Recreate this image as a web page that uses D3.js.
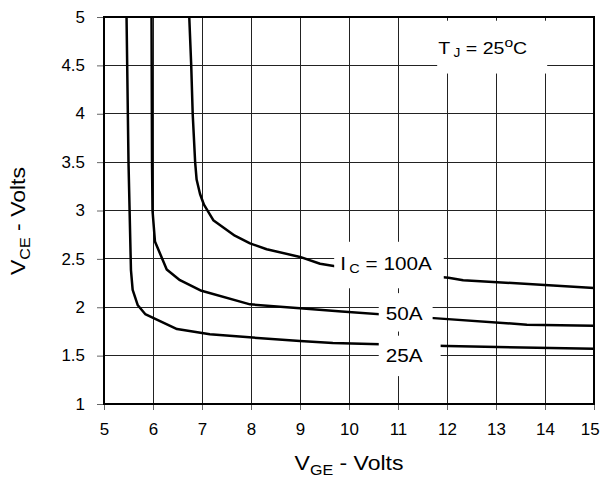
<!DOCTYPE html>
<html>
<head>
<meta charset="utf-8">
<script src="https://cdn.jsdelivr.net/npm/d3@7"></script>
<style>
  body { margin: 0; background: #fff; }
  svg { font-family: "Liberation Sans", Arial, sans-serif; }
</style>
</head>
<body>
<svg width="602" height="480"></svg>
<script>
  // curves: V_GE (x) and V_CE (y) per collector current
  const vge25 = [5.46, 5.50, 5.55, 5.585, 5.69, 5.84, 6.49, 7.16, 9.0, 9.67, 12.0, 15];
  const vce25 = [5.0, 3.5, 2.385, 2.18, 2.02, 1.93, 1.775, 1.72, 1.65, 1.63, 1.60, 1.57];
  const vge50 = [5.97, 5.98, 5.99, 6.04, 6.28, 6.55, 6.99, 7.98, 9.0, 9.85, 11.8, 13.63, 15];
  const vce50 = [5.0, 3.5, 3.0, 2.68, 2.39, 2.28, 2.17, 2.03, 1.99, 1.955, 1.885, 1.82, 1.81];
  const vge100 = [6.74, 6.78, 6.81, 6.86, 6.89, 6.96, 7.04, 7.23, 7.67, 7.98, 8.32, 9.0, 9.41, 10.0, 12.03, 12.33, 15];
  const vce100 = [5.0, 4.5, 4.0, 3.5, 3.32, 3.17, 3.06, 2.90, 2.74, 2.66, 2.60, 2.52, 2.45, 2.40, 2.305, 2.28, 2.20];

  const xTicks = [5, 6, 7, 8, 9, 10, 11, 12, 13, 14, 15];
  const yTicks = [1, 1.5, 2, 2.5, 3, 3.5, 4, 4.5, 5];

  const svg = d3.select('svg');
  const x = d3.scaleLinear().domain([5, 15]).range([104, 594]);
  const y = d3.scaleLinear().domain([1, 5]).range([404, 17]);
  const sx = 1.15;  // the reference text is a bit stretched sideways
  const tsx = 1.06; // tick labels

  // grid
  const grid = svg.append('g').attr('stroke', '#222').attr('stroke-width', 1)
    .attr('shape-rendering', 'crispEdges');
  grid.selectAll('.vg').data(xTicks).enter().append('line')
    .attr('x1', d => x(d)).attr('x2', d => x(d))
    .attr('y1', y(1)).attr('y2', y(5));
  grid.selectAll('.hg').data(yTicks).enter().append('line')
    .attr('x1', x(5)).attr('x2', x(15))
    .attr('y1', d => y(d)).attr('y2', d => y(d));

  // axes
  const xAxis = d3.axisBottom(x).tickValues(xTicks).tickSize(6).tickPadding(14).tickFormat(d3.format('d'));
  const yAxis = d3.axisLeft(y).tickValues(yTicks).tickSize(7).tickPadding(12).tickFormat(d => String(d));
  const xg = svg.append('g').attr('transform', `translate(0,${y(1)})`).call(xAxis);
  const yg = svg.append('g').attr('transform', `translate(${x(5)},0)`).call(yAxis);
  [xg, yg].forEach(g => {
    g.select('.domain').remove();
    g.selectAll('.tick line').attr('stroke', '#666');
    g.selectAll('.tick text').attr('fill', '#000')
      .attr('font-size', 16).attr('font-family', '"Liberation Sans", Arial, sans-serif');
  });
  xg.selectAll('.tick text').attr('transform', `scale(${tsx},1)`)
    .attr('x', d => d === 15 ? -4 : 0).attr('dy', '0.71em');
  yg.selectAll('.tick text').each(function () {
    const t = d3.select(this);
    const xx = +t.attr('x');
    t.attr('x', xx / tsx).attr('transform', `scale(${tsx},1)`);
  });

  // frame
  svg.append('rect')
    .attr('x', x(5)).attr('y', y(5))
    .attr('width', x(15) - x(5)).attr('height', y(1) - y(5))
    .attr('fill', 'none').attr('stroke', '#000').attr('stroke-width', 2);

  // curves
  const series = [[vge25, vce25], [vge50, vce50], [vge100, vce100]];
  const line = d3.line().x(d => x(d[0])).y(d => y(d[1]));
  svg.append('g').selectAll('path').data(series).enter().append('path')
    .attr('d', s => line(s[0].map((v, i) => [v, s[1][i]])))
    .attr('fill', 'none').attr('stroke', '#000').attr('stroke-width', 2.5)
    .attr('stroke-linejoin', 'round');

  // labels with white boxes
  const labels = [
    { main: 'I', sub: 'C', rest: ' = 100A', vx: 9.82, vy: 2.38, size: 18, pad: [6, 12, 12, 12] },
    { main: '50A', sub: null, rest: '', vx: 10.75, vy: 1.87, size: 18, pad: [7, 10, 10, 8] },
    { main: '25A', sub: null, rest: '', vx: 10.75, vy: 1.43, size: 18, pad: [7, 10, 18, 10] },
    { main: 'T', sub: 'J', rest: ' = 25', sup: 'o', tail: 'C', vx: 11.82, vy: 4.62, size: 17, pad: [1, 14, 20, 14] }
  ];
  labels.forEach(l => {
    const g = svg.append('g');
    const t = g.append('text')
      .attr('transform', `translate(${x(l.vx)},${y(l.vy)}) scale(${sx},1)`)
      .attr('font-size', l.size).attr('fill', '#000');
    t.append('tspan').text(l.main);
    if (l.sub) {
      t.append('tspan').attr('font-size', l.size * 0.7).attr('dy', 3).attr('dx', 3).text(l.sub);
      t.append('tspan').attr('dy', -3).text(l.rest);
    }
    if (l.sup) {
      t.append('tspan').attr('font-size', l.size * 0.8).attr('dy', -7).text(l.sup);
      t.append('tspan').attr('dy', 7).text(l.tail);
    }
    const b = t.node().getBBox();
    const left = x(l.vx) - l.pad[0];
    const right = x(l.vx) + b.width * sx + l.pad[2];
    g.insert('rect', 'text')
      .attr('x', left).attr('y', y(l.vy) + b.y - l.pad[1])
      .attr('width', right - left).attr('height', b.height + l.pad[1] + l.pad[3])
      .attr('fill', '#fff');
  });

  // axis titles
  const xt = svg.append('text')
    .attr('transform', `translate(349,470) scale(${sx},1)`)
    .attr('text-anchor', 'middle').attr('font-size', 20);
  xt.append('tspan').text('V');
  xt.append('tspan').attr('font-size', 14).attr('dy', 5).text('GE');
  xt.append('tspan').attr('dy', -5).text(' - Volts');

  const yt = svg.append('text')
    .attr('transform', `translate(25,221) rotate(-90) scale(${sx},1)`)
    .attr('text-anchor', 'middle').attr('font-size', 20);
  yt.append('tspan').text('V');
  yt.append('tspan').attr('font-size', 14).attr('dy', 5).text('CE');
  yt.append('tspan').attr('dy', -5).text(' - Volts');
</script>
</body>
</html>
